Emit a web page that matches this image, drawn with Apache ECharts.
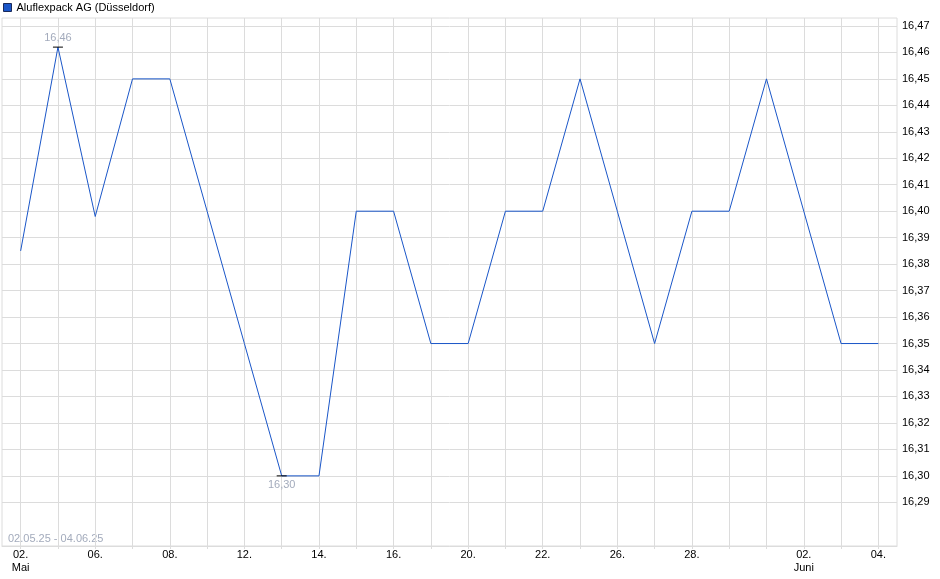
<!DOCTYPE html>
<html>
<head>
<meta charset="utf-8">
<script src="https://cdn.jsdelivr.net/npm/echarts@6/dist/echarts.min.js"></script>
<style>
html,body{margin:0;padding:0;background:#fff;}
#c{width:940px;height:579px;}
</style>
</head>
<body>
<div id="c"></div>
<script>
var dates = ['02.05','05.05','06.05','07.05','08.05','09.05','12.05','13.05','14.05','15.05','16.05','19.05','20.05','21.05','22.05','23.05','26.05','27.05','28.05','29.05','30.05','02.06','03.06','04.06'];
var prices = [16.385,16.462,16.398,16.45,16.45,16.40,16.35,16.30,16.30,16.40,16.40,16.35,16.35,16.40,16.40,16.45,16.40,16.35,16.40,16.40,16.45,16.40,16.35,16.35];
var xLabelIdx = [0,2,4,6,8,10,12,14,16,18,21,23];
var monthLabels = {0:'Mai',21:'Juni'};
var yTicks = [16.29,16.30,16.31,16.32,16.33,16.34,16.35,16.36,16.37,16.38,16.39,16.40,16.41,16.42,16.43,16.44,16.45,16.46,16.47];
var seriesName = 'Aluflexpack AG (Düsseldorf)';
var rangeText = '02.05.25 - 04.06.25';

var allIdx = dates.map(function(d,i){return i;});
var data = prices.map(function(v,i){return [i,v];});
function fmt(v){return v.toFixed(2).replace('.',',');}

var chart = echarts.init(document.getElementById('c'), null, {renderer:'canvas'});
chart.setOption({
  animation:false,
  textStyle:{fontFamily:'Liberation Sans, Arial, sans-serif'},
  legend:{
    left:-2, top:-3, icon:'rect', itemWidth:8, itemHeight:8, itemGap:5,
    textStyle:{fontSize:11,color:'#000',fontFamily:'Liberation Sans, Arial, sans-serif'},
    itemStyle:{borderColor:'#1a2a5a',borderWidth:1},
    data:[seriesName]
  },
  grid:{left:2,right:43,top:18,bottom:33,show:true,borderColor:'#dcdcdc',borderWidth:1,containLabel:false},
  graphic:[{type:'text',left:8,top:533,style:{text:rangeText,fontSize:11,fill:'#a3abbc',fontFamily:'Liberation Sans, Arial, sans-serif'}}],
  xAxis:{
    type:'value', min:-0.5, max:23.5,
    axisLine:{show:true,lineStyle:{color:'#dcdcdc'}},
    axisTick:{show:true,length:3,lineStyle:{color:'#dcdcdc'},customValues:allIdx},
    splitLine:{show:true,lineStyle:{color:'#dcdcdc',width:1}},
    axisLabel:{
      customValues:xLabelIdx, margin:2, fontSize:11, color:'#000', lineHeight:13,
      formatter:function(v){var i=Math.round(v);var s=dates[i].slice(0,3);if(monthLabels[i])s+='\n'+monthLabels[i];return s;}
    }
  },
  yAxis:{
    type:'value', position:'right', min:16.2735, max:16.4730,
    axisLine:{show:true,lineStyle:{color:'#dcdcdc'}},
    axisTick:{show:true,length:4,lineStyle:{color:'#dcdcdc'},customValues:yTicks},
    splitLine:{show:true,lineStyle:{color:'#dcdcdc',width:1}},
    axisLabel:{customValues:yTicks,margin:5,fontSize:11,color:'#000',formatter:function(v){return fmt(v);}}
  },
  series:[{
    name:seriesName, type:'line', data:data, showSymbol:false, symbol:'none',
    itemStyle:{color:'#1a56c8'},
    lineStyle:{color:'#1a56c8',width:1},
    markPoint:{
      symbol:'rect', symbolSize:[10,1],
      itemStyle:{color:'#000'},
      data:[
        {type:'max',label:{show:true,position:'top',distance:3,color:'#a3abbc',fontSize:11,formatter:function(p){return fmt(p.value);}}},
        {type:'min',label:{show:true,position:'bottom',distance:3,color:'#a3abbc',fontSize:11,formatter:function(p){return fmt(p.value);}}}
      ]
    }
  }]
});
</script>
</body>
</html>
